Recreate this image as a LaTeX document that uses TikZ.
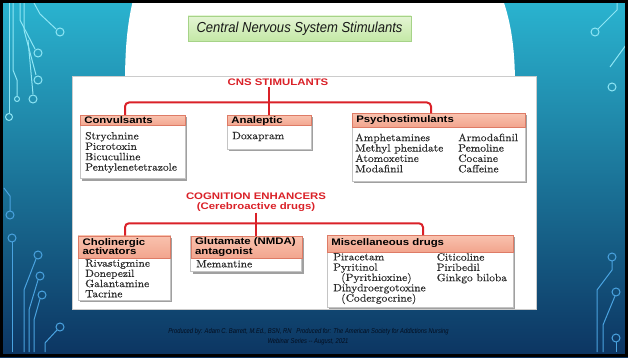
\documentclass[tikz,border=0pt]{standalone}
\usepackage{fontspec}
\setmainfont{Liberation Sans}
\newfontfamily\hdrf[FakeStretch=1.2]{Liberation Sans}
\newfontfamily\bodyf[FakeStretch=1.09,FakeBold=0.4]{lmroman10-regular.otf}
\newfontfamily\ttlf[FakeStretch=0.9]{Liberation Sans}
\newfontfamily\footf[FakeStretch=0.83]{Liberation Sans}
\definecolor{rl}{HTML}{DA2128}
\definecolor{bgtop}{HTML}{2AB4D0}
\definecolor{bgmid}{HTML}{177CA7}
\definecolor{bgbot}{HTML}{0C3461}
\definecolor{hdtop}{HTML}{F9C2AE}
\definecolor{hdbot}{HTML}{F2A58E}
\definecolor{hdbrd}{HTML}{DE7B66}
\definecolor{bodyc}{HTML}{2C2C2C}
\definecolor{shc}{HTML}{A0A0A0}
\definecolor{brc}{HTML}{C4C4C4}
\definecolor{gtop}{HTML}{E4F5D4}
\definecolor{gbot}{HTML}{C4E8A6}
\definecolor{gbrd}{HTML}{A6D388}
\definecolor{cirl}{HTML}{8FE6F5}
\definecolor{cird}{HTML}{4AA3E0}
\definecolor{footc}{HTML}{030D1E}
\begin{document}
\begin{tikzpicture}[x=1pt,y=-1pt,
 redl/.style={draw=rl, line width=2pt},
 hdr/.style={top color=hdtop, bottom color=hdbot, draw=hdbrd, line width=0.6pt,
   inner xsep=4pt, inner ysep=0pt, anchor=north west, align=left, text=black,
   font=\hdrf\bfseries\fontsize{9.5}{9.5}\selectfont},
 bod/.style={anchor=north west, inner sep=0pt, align=left, text=bodyc,
   font=\bodyf\fontsize{10.5}{10.4}\selectfont},
 grp/.style={inner sep=1pt, text=rl, align=center,
   font=\hdrf\bfseries\fontsize{9.5}{10.3}\selectfont},
 shadowbox/.style={fill=shc},
 bodybox/.style={fill=white, draw=brc, line width=0.5pt},
 circl/.style={draw=cirl, line width=1pt},
 circd/.style={draw=cird, line width=1pt},
 foot/.style={inner sep=0pt, text=footc, font=\footf\itshape\fontsize{7}{7}\selectfont}]
\useasboundingbox (0,0) rectangle (628,358);
% background
\shade[top color=bgtop, middle color=bgmid, bottom color=bgbot] (0,0) rectangle (628,358);
% circuit decorations, top left
\draw[circl] (9,3) -- (9,113); \draw[circl] (9,117) circle (3.5);
\draw[circl] (13,3) -- (13,70) -- (17,80) -- (17,96); \draw[circl] (17,99) circle (2.5);
\draw[circl] (20,3) -- (20,20) -- (35,49); \draw[circl] (38,53) circle (4);
\draw[circl] (24,3) -- (24,30) -- (36,75); \draw[circl] (38,80) circle (4);
\draw[circl] (28,40) -- (33,94); \draw[circl] (33,99) circle (4);
\draw[circl] (34,3) -- (40,14) -- (56,29); \draw[circl] (60,32) circle (4);
% bottom left
\draw[circd] (4,188) -- (10,196) -- (10,211); \draw[circd] (10,215) circle (4);
\draw[circd] (12,242) -- (12,352); \draw[circd] (12,238) circle (4);
\draw[circd] (36,259) -- (24,290) -- (24,352); \draw[circd] (38,255) circle (4);
\draw[circd] (38,280) -- (29,310) -- (29,352); \draw[circd] (40,276) circle (4);
\draw[circd] (40,299) -- (34,320) -- (34,352); \draw[circd] (42,295) circle (4);
\draw[circd] (57,330) -- (45,343) -- (45,352); \draw[circd] (60,327) circle (4);
% top right
\draw[circl] (598,29) -- (617,10) -- (617,3); \draw[circl] (595,32) circle (4);
\draw[circl] (626,45) -- (610,67); \draw[circl] (612,87) circle (4);
% bottom right
\draw[circd] (612,261) -- (612,270) -- (597,290) -- (597,352); \draw[circd] (612,257) circle (4);
\draw[circd] (615,296) -- (603,325) -- (603,352); \draw[circd] (616,292) circle (4);
\draw[circd] (616,342) -- (616,352); \draw[circd] (616,338) circle (4);
% white arch
\fill[white] (133,0) .. controls (127,25) and (125,50) .. (125,85) -- (515,85)
  .. controls (515,45) and (510,20) .. (503,0) -- cycle;
% title
\node[top color=gtop, bottom color=gbot, draw=gbrd, line width=0.8pt,
  minimum width=223pt, minimum height=25pt, inner sep=0pt,
  font=\ttlf\itshape\fontsize{14.5}{14.5}\selectfont, text=black!90] (title)
  at (299.5,28.5) {Central Nervous System Stimulants};
% image panel
\filldraw[fill=white, draw=black!20, line width=0.5pt] (72,76) rectangle (536,309);
% group 1 title
\node[grp] (cns) at (278,82) {CNS STIMULANTS};
% Convulsants
\fill[shadowbox] (82,117) rectangle (187,180.5);
\filldraw[bodybox] (80,115) rectangle (185,178.5);
\node[hdr, text width=97pt, minimum height=10.5pt] (conv) at (80,115) {Convulsants};
\node[bod] (convt) at (85,131.8) {Strychnine\\Picrotoxin\\Bicuculline\\Pentylenetetrazole};
% Analeptic
\fill[shadowbox] (229,117) rectangle (313,151);
\filldraw[bodybox] (227,115) rectangle (311,149);
\node[hdr, text width=76pt, minimum height=10.5pt] (ana) at (227,115) {Analeptic};
\node[bod] (anat) at (232,131.8) {Doxapram};
% Psychostimulants
\fill[shadowbox] (354,115.3) rectangle (527,183);
\filldraw[bodybox] (352,113.3) rectangle (525,181);
\node[hdr, text width=165pt, minimum height=13.4pt] (psy) at (352,113.3) {Psychostimulants};
\node[bod] (psya) at (355,133.4) {Amphetamines\\Methyl phenidate\\Atomoxetine\\Modafinil};
\node[bod] (psyb) at (458,133.4) {Armodafinil\\Pemoline\\Cocaine\\Caffeine};
% group 1 connectors
\coordinate (l1) at (125,102.5);
\coordinate (r1) at (431,102.5);
\draw[redl, rounded corners=4pt] (l1 |- conv.north) -- (l1) -- (r1) -- (r1 |- psy.north);
\draw[redl] (ana.north |- cns.south) -- (ana.north);
% group 2 title
\node[grp] (cog) at (256,202) {COGNITION ENHANCERS\\(Cerebroactive drugs)};
% Cholinergic
\fill[shadowbox] (80.3,237.5) rectangle (172,302);
\filldraw[bodybox] (78.3,235.5) rectangle (170,300);
\node[hdr, text width=83.7pt, minimum height=22pt] (chol) at (78.3,235.5) {Cholinergic\\activators};
\node[bod, font=\bodyf\fontsize{10.5}{10.2}\selectfont] (cholt) at (85,259.3) {Rivastigmine\\Donepezil\\Galantamine\\Tacrine};
% Glutamate
\fill[shadowbox] (192.7,238) rectangle (303.7,273.7);
\filldraw[bodybox] (190.7,236) rectangle (301.7,271.7);
\node[hdr, text width=103pt, minimum height=22pt] (glu) at (190.7,236) {Glutamate (NMDA)\\antagonist};
\node[bod] (glut) at (196,260) {Memantine};
% Misc
\fill[shadowbox] (329,237) rectangle (515,309);
\filldraw[bodybox] (327,235) rectangle (513,307);
\node[hdr, text width=178pt, minimum height=16.5pt] (misc) at (327,235) {Miscellaneous drugs};
\node[bod, font=\bodyf\fontsize{10.5}{10.3}\selectfont] (misca) at (333,253) {Piracetam\\Pyritinol\\\hspace*{8pt}(Pyrithioxine)\\Dihydroergotoxine\\\hspace*{8pt}(Codergocrine)};
\node[bod, font=\bodyf\fontsize{10.5}{10.3}\selectfont] (miscb) at (436.5,253) {Citicoline\\Piribedil\\Ginkgo biloba};
% group 2 connectors
\coordinate (l2) at (125,223.3);
\coordinate (r2) at (423,223.3);
\draw[redl, rounded corners=4pt] (l2 |- chol.north) -- (l2) -- (r2) -- (r2 |- misc.north);
\draw[redl] (cog.south) -- (cog.south |- glu.north);
% footer
\node[foot] (foot1) at (308.5,332)
  {Produced by: Adam C. Barrett, M.Ed., BSN, RN \ \ Produced for: The American Society for Addictions Nursing};
\node[foot] (foot2) at (308,342) {Webinar Series -- August, 2021};
% frame
\draw[black, line width=3pt] (1.5,1.5) rectangle (626.5,355);
\end{tikzpicture}
\end{document}
